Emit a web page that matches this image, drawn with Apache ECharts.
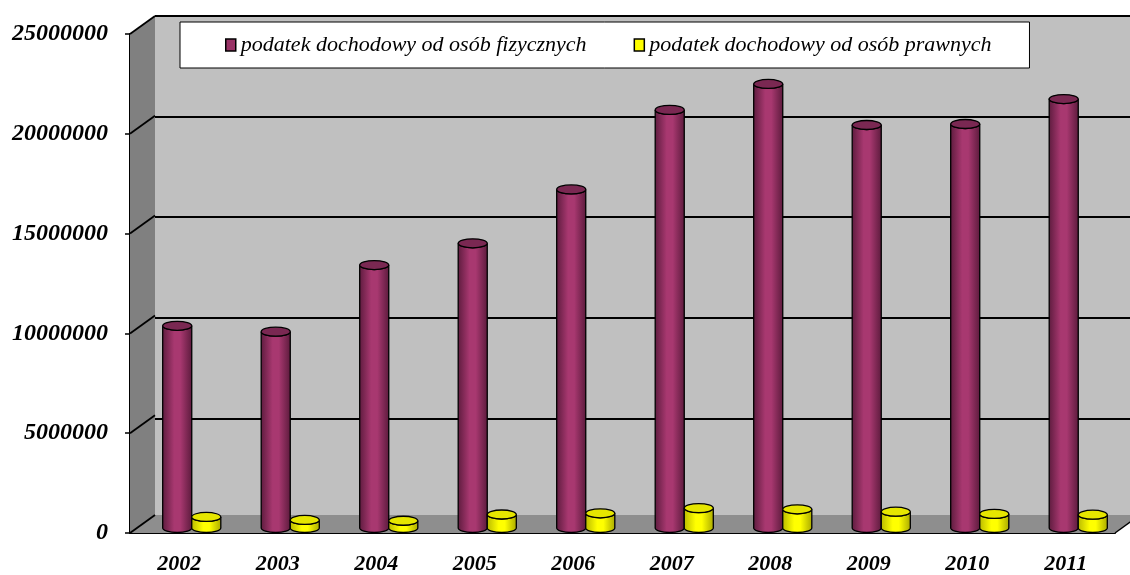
<!DOCTYPE html>
<html lang="pl">
<head>
<meta charset="UTF-8">
<title>podatek dochodowy</title>
<script src="https://cdn.jsdelivr.net/npm/echarts@6/dist/echarts.min.js"></script>
<style>
  html, body { margin: 0; padding: 0; background: #fff; }
  #container { width: 1130px; height: 575px; }
</style>
</head>
<body>
<div id="container"></div>
<script>
  // dane
  var years = ['2002', '2003', '2004', '2005', '2006', '2007', '2008', '2009', '2010', '2011'];
  var fizyczne = [10050000, 9760000, 13070000, 14150000, 16830000, 20780000, 22070000, 20030000, 20080000, 21320000];
  var prawne = [550000, 400000, 360000, 670000, 730000, 990000, 930000, 810000, 700000, 660000];
  var nameFiz = 'podatek dochodowy od osób fizycznych';
  var namePraw = 'podatek dochodowy od osób prawnych';
  var yMax = 25000000, yStep = 5000000;

  // glebokosc "3D"
  var DX = 25, DY = 18;
  var G = { left: 130, top: 34, width: 985, height: 503 };

  var labelFont = { fontFamily: 'Liberation Serif', fontStyle: 'italic', fontWeight: 'bold', color: '#000' };

  var dom = document.getElementById('container');
  var myChart = echarts.init(dom, null, { renderer: 'canvas' });

  function cylinder(api, side, c) {
    var idx = api.value(0), val = api.value(1);
    var top = api.coord([idx, val]);
    var base = api.coord([idx, 0]);
    var band = api.size([1, 0])[0];
    var w = band * 0.295;
    var cx = top[0] + side * w / 2;
    var x0 = cx - w / 2, x1 = cx + w / 2;
    var rx = w / 2, ry = 4.5;
    var yt = top[1], yb = base[1];
    var body = 'M' + x0 + ',' + yt + ' L' + x0 + ',' + yb +
      ' A' + rx + ',' + ry + ' 0 0 0 ' + x1 + ',' + yb +
      ' L' + x1 + ',' + yt +
      ' A' + rx + ',' + ry + ' 0 0 1 ' + x0 + ',' + yt + ' Z';
    var cap = 'M' + x0 + ',' + yt +
      ' A' + rx + ',' + ry + ' 0 1 0 ' + x1 + ',' + yt +
      ' A' + rx + ',' + ry + ' 0 1 0 ' + x0 + ',' + yt + ' Z';
    return {
      type: 'group',
      children: [
        {
          type: 'path', shape: { pathData: body },
          style: {
            fill: new echarts.graphic.LinearGradient(0, 0, 1, 0, [
              { offset: 0, color: c[0] }, { offset: 0.4, color: c[1] },
              { offset: 0.6, color: c[1] }, { offset: 1, color: c[2] }
            ]),
            stroke: '#000', lineWidth: 1.3
          }
        },
        { type: 'path', shape: { pathData: cap }, style: { fill: c[3], stroke: '#000', lineWidth: 1.3 } }
      ]
    };
  }

  function frame(params, api) {
    var cs = params.coordSys;
    var x = cs.x, y = cs.y, w = cs.width, h = cs.height;
    var kids = [
      { type: 'polygon', shape: { points: [[x, y], [x, y + h], [x + DX, y + h - DY], [x + DX, y - DY]] }, style: { fill: '#808080' } },
      { type: 'polygon', shape: { points: [[x, y + h], [x + w, y + h], [x + w + DX, y + h - DY], [x + DX, y + h - DY]] }, style: { fill: '#8e8e8e' } },
      { type: 'line', shape: { x1: x + w, y1: y + h, x2: x + w + DX, y2: y + h - DY }, style: { stroke: '#000', lineWidth: 1.5 } }
    ];
    for (var v = 0; v <= yMax; v += yStep) {
      var p = api.coord([0, v]);
      kids.push({ type: 'line', shape: { x1: x, y1: p[1], x2: x + DX, y2: p[1] - DY }, style: { stroke: '#000', lineWidth: 1.8 } });
    }
    return { type: 'group', children: kids };
  }

  var option = {
    animation: false,
    backgroundColor: '#fff',
    legend: {
      left: 180, top: 22,
      backgroundColor: '#fff', borderColor: '#000', borderWidth: 1,
      padding: [12, 38, 12, 45],
      itemGap: 47, itemWidth: 10, itemHeight: 12,
      textStyle: { fontFamily: 'Liberation Serif', fontStyle: 'italic', fontSize: 22, color: '#000' },
      data: [
        { name: nameFiz, icon: 'rect', itemStyle: { color: '#993366', borderColor: '#000', borderWidth: 1.5 } },
        { name: namePraw, icon: 'rect', itemStyle: { color: '#ffff00', borderColor: '#000', borderWidth: 1.5 } }
      ],
      z: 10
    },
    grid: [
      { left: G.left, top: G.top, width: G.width, height: G.height },
      { left: G.left + DX, top: G.top - DY, width: G.width, height: G.height, show: true, backgroundColor: '#c0c0c0', borderWidth: 0 },
      { left: G.left + DX / 2, top: G.top - DY / 2, width: G.width, height: G.height }
    ],
    xAxis: [
      {
        type: 'category', gridIndex: 0, data: years,
        axisLine: { lineStyle: { color: '#000', width: 2 } },
        axisTick: { length: 8, lineStyle: { color: '#000', width: 1.5 } },
        axisLabel: Object.assign({ margin: 20, fontSize: 22 }, labelFont)
      },
      { type: 'category', gridIndex: 1, data: years, show: false },
      { type: 'category', gridIndex: 2, data: years, show: false }
    ],
    yAxis: [
      {
        type: 'value', gridIndex: 0, min: 0, max: yMax, interval: yStep,
        axisLine: { show: true, lineStyle: { color: '#000', width: 2 } },
        axisTick: { show: true, length: 5, lineStyle: { color: '#000', width: 1.5 } },
        axisLabel: Object.assign({ margin: 22, fontSize: 24, formatter: function (v) { return String(v); } }, labelFont),
        splitLine: { show: false }
      },
      {
        type: 'value', gridIndex: 1, min: 0, max: yMax, interval: yStep,
        axisLine: { show: false }, axisTick: { show: false }, axisLabel: { show: false },
        splitLine: { show: true, showMinLine: false, lineStyle: { color: '#000', width: 2 } }
      },
      { type: 'value', gridIndex: 2, min: 0, max: yMax, interval: yStep, show: false, splitLine: { show: false } }
    ],
    series: [
      {
        type: 'custom', name: 'frame', xAxisIndex: 0, yAxisIndex: 0, z: 1,
        data: [[0, 0]], renderItem: frame, silent: true
      },
      {
        type: 'custom', name: nameFiz, xAxisIndex: 2, yAxisIndex: 2, z: 3,
        itemStyle: { color: '#993366' },
        encode: { x: 0, y: 1 },
        data: years.map(function (y, i) { return [i, fizyczne[i]]; }),
        renderItem: function (params, api) {
          return cylinder(api, -1, ['#5c1b3d', '#a83870', '#5a1a3b', '#7a2852']);
        }
      },
      {
        type: 'custom', name: namePraw, xAxisIndex: 2, yAxisIndex: 2, z: 4,
        itemStyle: { color: '#ffff00' },
        encode: { x: 0, y: 1 },
        data: years.map(function (y, i) { return [i, prawne[i]]; }),
        renderItem: function (params, api) {
          return cylinder(api, 1, ['#b8b800', '#ffff00', '#a8a800', '#e6e600']);
        }
      }
    ]
  };

  myChart.setOption(option);
  window.addEventListener('resize', myChart.resize);
</script>
</body>
</html>
